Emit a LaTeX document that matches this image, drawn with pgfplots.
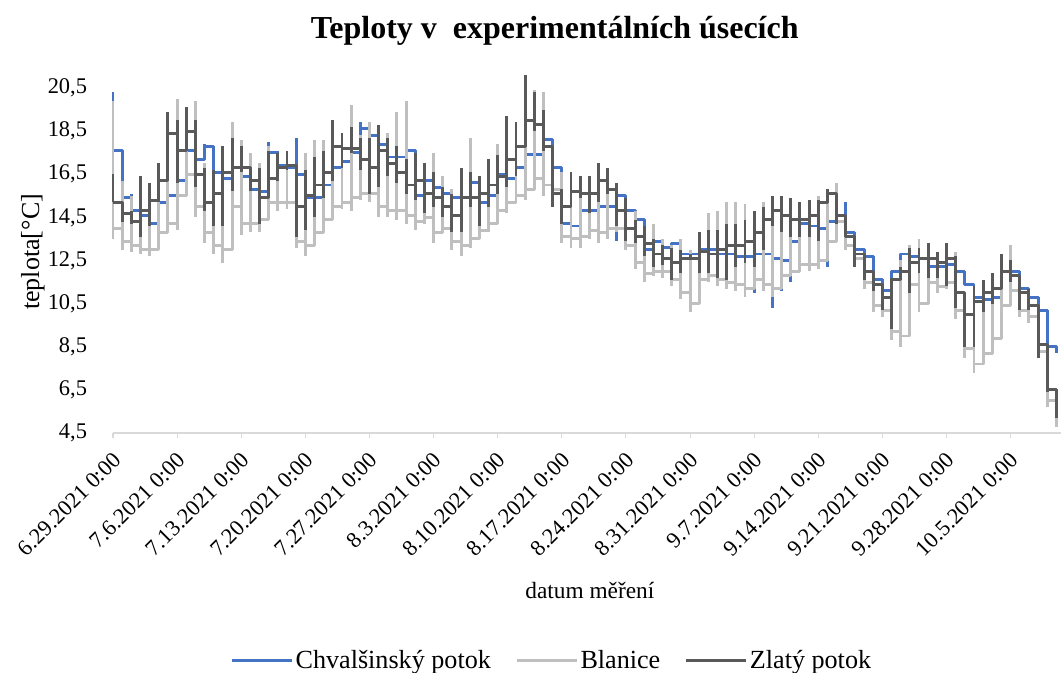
\documentclass[border=0pt]{standalone}
\usepackage{fontspec}
\setmainfont{Liberation Serif}
\usepackage{pgfplots}
\usepackage{pgfplotstable}
\pgfplotsset{compat=1.18}
\definecolor{cblue}{HTML}{4472C4}
\definecolor{cgray}{HTML}{BFBFBF}
\definecolor{cdark}{HTML}{595959}
\definecolor{caxis}{HTML}{D9D9D9}

% d = day index from 6.29.2021; lo/hi = daily min/max; L = level at end of day
\pgfplotstableread{
d lo hi L
0 17.6 20.3 17.6
1 15.4 17.6 15.4
2 14.8 15.6 14.8
3 14.6 14.9 14.6
4 14.2 14.6 14.2
5 14.2 15.3 15.2
6 15.2 15.6 15.5
7 15.5 16.4 16.2
8 16.2 17.7 17.6
9 17.2 17.6 17.2
10 17.2 17.9 17.8
11 16.6 17.8 16.6
12 16.2 16.6 16.3
13 15.0 16.3 15.0
14 15.0 16.5 16.4
15 15.8 16.4 15.8
16 15.6 16.0 15.7
17 15.7 18.0 17.5
18 16.9 17.6 16.9
19 16.6 17.0 16.8
20 16.5 18.2 16.5
21 15.4 16.5 15.4
22 15.3 15.6 15.4
23 15.4 16.1 16.0
24 16.0 16.9 16.8
25 16.8 17.2 17.1
26 17.1 17.5 17.5
27 17.5 18.9 18.6
28 18.2 18.6 18.3
29 17.8 18.3 17.9
30 17.3 17.9 17.3
31 17.0 17.4 17.3
32 16.8 17.6 17.6
33 15.5 17.6 15.5
34 15.4 16.2 16.2
35 15.9 16.2 15.9
36 15.6 15.9 15.6
37 15.4 15.6 15.4
38 15.4 16.1 15.4
39 15.4 16.1 16.1
40 15.2 16.1 15.2
41 15.2 15.6 15.5
42 15.5 16.6 16.5
43 16.2 16.6 16.3
44 16.3 16.8 16.8
45 16.8 17.4 17.4
46 15.9 17.4 17.4
47 15.9 18.1 18.1
48 16.8 18.1 16.8
49 14.2 16.8 14.2
50 14.0 14.4 14.1
51 14.1 14.8 14.8
52 14.8 15.0 14.8
53 14.8 15.1 15.0
54 15.0 15.2 15.0
55 13.4 15.5 15.5
56 14.8 15.5 14.8
57 14.4 14.8 14.4
58 13.0 14.4 13.0
59 13.0 13.4 13.4
60 13.1 13.4 13.1
61 13.1 13.3 13.3
62 12.8 13.3 12.8
63 12.7 12.9 12.8
64 12.8 13.0 13.0
65 12.9 13.1 13.0
66 12.8 13.0 12.8
67 11.3 12.9 12.8
68 12.6 12.8 12.7
69 12.6 12.8 12.7
70 11.0 12.8 12.8
71 11.2 12.8 12.8
72 10.3 12.8 12.6
73 11.1 12.6 12.5
74 11.5 13.4 13.4
75 13.4 14.2 14.2
76 14.0 14.2 14.1
77 13.9 14.2 14.0
78 12.2 14.3 14.3
79 14.1 14.4 14.3
80 13.8 15.2 13.8
81 13.0 13.8 13.0
82 12.6 13.0 12.7
83 11.6 12.7 11.6
84 11.1 11.6 11.1
85 11.1 12.0 12.0
86 12.0 12.8 12.8
87 12.5 12.9 12.7
88 12.5 12.8 12.6
89 12.2 12.6 12.2
90 12.2 12.4 12.2
91 12.0 12.3 12.3
92 12.0 12.5 12.0
93 11.4 12.0 11.4
94 10.6 11.4 10.8
95 9.7 10.8 10.7
96 10.7 10.9 10.8
97 10.8 12.0 12.0
98 11.9 12.5 12.0
99 11.2 12.0 11.2
100 10.8 11.2 10.8
101 10.1 10.8 10.2
102 8.5 10.2 8.5
103 8.2 8.5 8.3
}\tblue

\pgfplotstableread{
d lo hi L
0 13.5 19.9 14.0
1 13.0 16.2 13.4
2 12.9 15.5 13.2
3 12.8 15.4 13.0
4 12.7 15.8 13.0
5 13.3 16.5 13.8
6 13.8 17.2 14.2
7 13.9 20.0 15.5
8 15.5 18.0 16.5
9 14.5 19.9 15.0
10 13.3 17.0 13.8
11 12.8 16.5 13.2
12 12.4 16.0 13.0
13 14.5 18.9 15.0
14 13.7 18.1 14.2
15 13.8 17.5 14.2
16 13.8 17.0 14.4
17 14.8 17.8 15.2
18 14.8 17.2 15.2
19 14.9 17.0 15.2
20 13.1 16.4 13.4
21 12.7 17.5 13.2
22 13.3 18.1 13.8
23 13.9 18.1 14.4
24 14.5 17.5 15.0
25 14.9 18.0 15.2
26 14.8 19.7 15.4
27 15.3 18.3 15.6
28 15.2 18.9 15.6
29 14.5 18.2 15.0
30 14.5 18.4 14.8
31 14.4 19.4 14.8
32 14.2 19.9 14.6
33 13.9 17.0 14.3
34 14.2 16.8 14.5
35 13.3 17.5 13.8
36 13.8 16.4 14.0
37 13.0 15.8 13.4
38 12.7 15.6 13.2
39 13.1 18.2 13.5
40 13.5 16.0 13.9
41 13.8 16.8 14.2
42 14.4 17.9 14.8
43 14.7 17.5 15.2
44 15.2 18.0 15.5
45 15.3 18.5 15.8
46 15.9 20.4 16.3
47 15.5 20.3 16.0
48 15.5 17.8 15.8
49 13.3 16.6 13.6
50 13.1 16.3 13.5
51 13.1 16.2 13.6
52 13.5 15.8 13.9
53 13.3 16.0 13.8
54 13.5 16.8 14.0
55 13.8 16.0 14.0
56 13.0 15.0 13.2
57 12.1 14.8 12.4
58 11.5 14.0 11.9
59 11.8 14.2 12.0
60 11.7 13.5 12.0
61 11.3 13.2 11.6
62 10.7 13.5 11.0
63 10.1 13.0 10.5
64 11.3 13.4 11.6
65 11.5 14.7 11.8
66 11.3 14.8 11.6
67 11.2 15.2 11.5
68 11.1 15.2 11.4
69 10.8 15.1 11.2
70 11.3 14.7 11.6
71 11.1 15.2 11.4
72 10.8 14.3 11.2
73 11.5 14.2 11.8
74 11.8 14.0 12.0
75 12.0 14.5 12.3
76 12.0 15.3 12.3
77 12.1 15.5 12.5
78 13.0 15.6 13.4
79 14.0 16.1 14.3
80 13.0 14.6 13.2
81 12.4 13.5 12.6
82 11.2 12.8 11.5
83 10.1 11.8 10.4
84 9.9 11.3 10.2
85 8.8 11.0 9.2
86 8.5 12.5 9.0
87 11.0 13.2 11.4
88 10.1 13.5 10.5
89 11.2 13.0 11.5
90 11.0 12.8 11.3
91 11.2 13.3 11.5
92 9.8 12.9 10.2
93 8.0 10.8 8.4
94 7.3 10.5 7.7
95 7.9 10.8 8.2
96 8.5 11.8 8.9
97 10.0 12.8 10.4
98 10.8 13.2 11.1
99 9.9 11.6 10.2
100 9.6 11.2 9.9
101 8.0 10.2 8.3
102 5.7 8.0 6.0
103 4.8 6.5 5.0
}\tgray

\pgfplotstableread{
d lo hi L
0 15.2 16.5 15.2
1 14.3 15.2 14.7
2 14.2 14.8 14.3
3 13.6 16.4 14.8
4 14.1 16.1 15.3
5 15.2 17.0 16.2
6 16.2 19.4 18.4
7 16.1 19.0 17.6
8 17.6 19.6 18.5
9 15.9 19.0 16.5
10 14.8 16.8 15.2
11 14.1 16.7 15.6
12 14.1 17.8 16.6
13 15.7 18.2 16.8
14 16.6 17.8 16.8
15 15.7 16.8 16.2
16 14.2 16.8 15.4
17 15.4 17.6 16.3
18 16.2 17.5 16.8
19 16.7 17.6 16.9
20 13.6 16.6 15.0
21 13.9 16.7 15.5
22 14.5 17.3 16.0
23 15.4 17.6 16.6
24 16.2 19.0 17.8
25 16.8 18.4 17.7
26 17.5 18.7 17.7
27 16.7 18.2 17.2
28 15.6 18.2 16.8
29 15.9 18.8 17.6
30 16.4 18.2 17.0
31 16.1 17.8 16.6
32 15.6 17.2 16.0
33 15.3 17.5 16.2
34 14.7 17.0 15.6
35 15.0 16.6 15.4
36 14.5 15.9 15.0
37 13.8 15.6 14.6
38 13.8 16.8 15.4
39 15.0 16.6 15.4
40 14.1 16.4 15.6
41 15.0 17.2 16.0
42 15.6 17.4 16.4
43 15.9 19.2 17.2
44 16.4 18.9 17.8
45 17.8 21.1 19.0
46 18.5 20.3 18.8
47 17.6 19.5 17.8
48 15.0 17.6 15.6
49 14.2 15.8 15.0
50 15.0 16.6 15.7
51 15.4 16.4 15.6
52 14.7 16.4 15.6
53 15.2 17.0 16.2
54 15.6 16.8 15.8
55 14.1 16.1 14.8
56 13.4 15.4 14.0
57 13.3 14.4 13.6
58 12.7 14.1 13.3
59 12.2 13.5 12.8
60 12.3 13.2 12.6
61 11.6 13.1 12.4
62 11.9 13.0 12.6
63 12.5 12.8 12.6
64 11.9 13.8 12.9
65 11.9 13.9 12.8
66 11.7 13.9 13.0
67 11.6 14.2 13.2
68 12.2 14.2 13.2
69 12.4 14.4 13.4
70 12.2 14.8 13.8
71 13.0 15.0 14.4
72 14.1 15.5 14.8
73 13.8 15.5 14.6
74 13.6 15.4 14.4
75 13.6 15.2 14.4
76 13.6 15.3 14.6
77 13.4 15.3 15.2
78 15.2 15.8 15.6
79 14.2 15.5 14.6
80 13.6 14.6 13.6
81 12.2 13.6 12.8
82 11.6 12.8 12.0
83 11.1 12.0 11.4
84 10.2 11.4 10.8
85 9.3 11.7 11.6
86 11.6 12.2 12.0
87 11.0 13.1 12.4
88 11.9 13.1 12.6
89 11.7 13.3 12.6
90 11.7 12.9 12.4
91 11.3 13.3 12.6
92 10.3 12.7 11.0
93 8.5 11.0 10.0
94 8.5 11.3 10.6
95 10.1 11.6 11.0
96 10.5 11.9 11.2
97 11.3 12.8 12.0
98 11.5 12.5 11.8
99 10.2 11.8 11.0
100 10.2 11.2 10.4
101 8.0 10.4 8.6
102 6.4 8.6 6.5
103 5.2 6.5 5.3
}\tdark

\pgfplotsset{
  dayseries/.style={const plot mark left, no marks, line width=2.2pt, color=#1, line join=round, forget plot,
    error bars/.cd, y dir=both, y explicit, error mark=none,
    error bar style={line width=2.2pt, color=#1}},
}

\begin{document}
\begin{tikzpicture}
\path[use as bounding box] (-84.75pt,-179.25pt) rectangle (711pt,324.75pt);
\begin{axis}[
  scale only axis,
  width=711pt, height=271.7pt,
  xmin=0, xmax=103.5,
  ymin=4.5, ymax=21.3,
  clip=false,
  axis x line*=bottom,
  axis y line*=left,
  y axis line style={draw=none},
  x axis line style={draw=caxis, line width=0.8pt},
  xtick={0,7,...,98},
  xticklabels={6.29.2021 0:00,7.6.2021 0:00,7.13.2021 0:00,7.20.2021 0:00,7.27.2021 0:00,8.3.2021 0:00,8.10.2021 0:00,8.17.2021 0:00,8.24.2021 0:00,8.31.2021 0:00,9.7.2021 0:00,9.14.2021 0:00,9.21.2021 0:00,9.28.2021 0:00,10.5.2021 0:00},
  xtick style={draw=caxis, line width=0.8pt},
  tick align=outside,
  major tick length=4pt,
  ytick={4.5,6.5,8.5,10.5,12.5,14.5,16.5,18.5,20.5},
  ytick style={draw=none},
  /pgf/number format/assume math mode=true,
  yticklabel style={/pgf/number format/.cd, fixed, fixed zerofill, precision=1, use comma, /tikz/.cd, anchor=east, xshift=-12pt},
  tick label style={font=\fontsize{16.8}{19}\selectfont, text=black},
  xticklabel style={xshift=-1pt, yshift=-8pt, rotate=45, anchor=north east, inner sep=1pt},
  title={\textbf{Teploty v\ \ experimentálních úsecích}},
  title style={font=\fontsize{24}{28}\selectfont, at={(axis description cs:0.466,1.089)}, anchor=center},
  ylabel={teplota[°C]},
  ylabel style={font=\fontsize{19.5}{22}\selectfont, at={(axis description cs:-0.0844,0.5)}, anchor=center},
  xlabel={datum měření},
  xlabel style={font=\fontsize{17.5}{20}\selectfont, at={(axis description cs:0.503,-0.434)}, anchor=center},
  legend style={draw=none, font=\fontsize{19.6}{23}\selectfont, legend columns=3,
    at={(axis description cs:0.463,-0.627)}, anchor=center,
    /tikz/every even column/.append style={column sep=17pt},
    nodes={inner xsep=1.5pt}},
  legend cell align=left,
  legend image code/.code={\draw[#1] (0pt,0pt) -- (45pt,0pt);},
]
\addplot[dayseries=cblue] table[x=d, y=L, y error plus expr=\thisrow{hi}-\thisrow{L}, y error minus expr=\thisrow{L}-\thisrow{lo}] {\tblue};
\addplot[dayseries=cgray] table[x=d, y=L, y error plus expr=\thisrow{hi}-\thisrow{L}, y error minus expr=\thisrow{L}-\thisrow{lo}] {\tgray};
\addplot[dayseries=cdark] table[x=d, y=L, y error plus expr=\thisrow{hi}-\thisrow{L}, y error minus expr=\thisrow{L}-\thisrow{lo}] {\tdark};
\addlegendimage{cblue, line width=2.2pt}
\addlegendentry{Chvalšinský potok}
\addlegendimage{cgray, line width=2.2pt}
\addlegendentry{Blanice}
\addlegendimage{cdark, line width=2.2pt}
\addlegendentry{Zlatý potok}
\end{axis}
\end{tikzpicture}
\end{document}
